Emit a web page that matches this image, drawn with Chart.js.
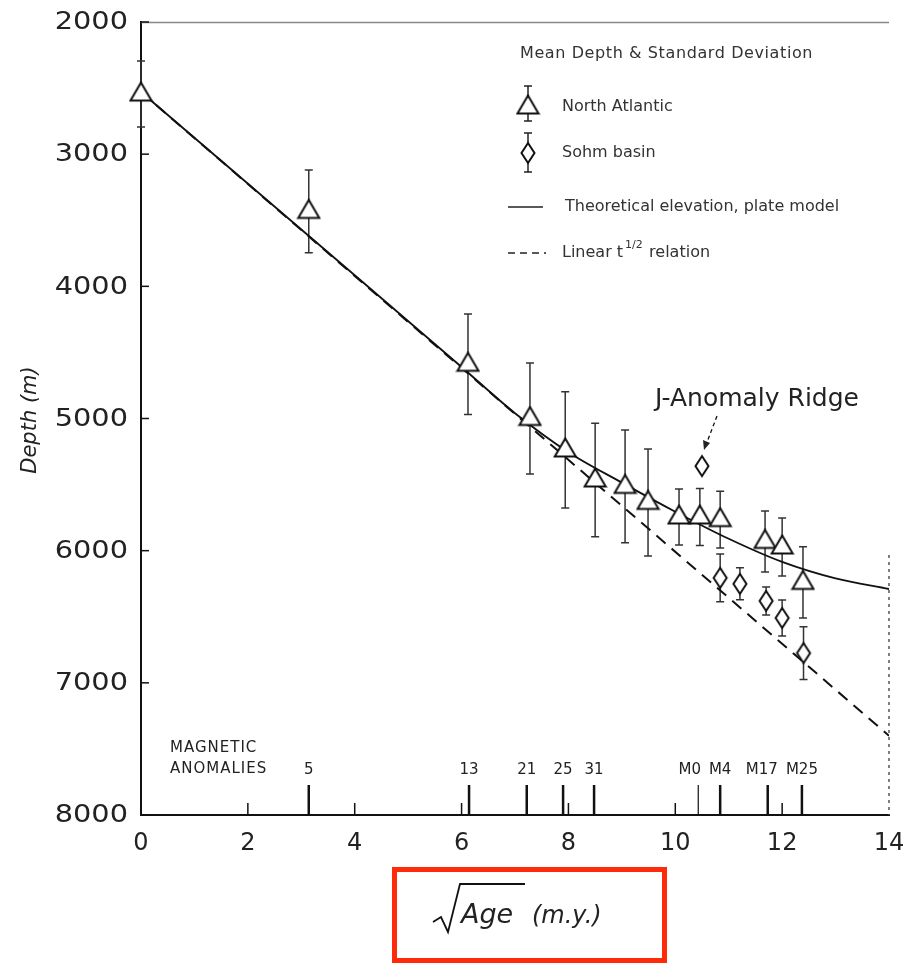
<!DOCTYPE html>
<html>
<head>
<meta charset="utf-8">
<script src="https://cdn.jsdelivr.net/npm/chart.js@4.4.1/dist/chart.umd.min.js"></script>
<style>
  body { margin: 0; background: #fff; }
  #wrap { width: 904px; height: 963px; position: relative; }
</style>
</head>
<body>
<div id="wrap"><canvas id="depth"></canvas></div>
<script>
// x = sqrt(age) (m.y.), y = depth (m)
const xTicks = [0, 2, 4, 6, 8, 10, 12, 14]
const yTicks = [2000, 3000, 4000, 5000, 6000, 7000, 8000]

const atlanticAge = [0, 3.14, 6.12, 7.28, 7.94, 8.5, 9.06, 9.49, 10.07, 10.46, 10.84, 11.68, 12.0, 12.39]
const atlanticDepth = [2545, 3433, 4590, 5000, 5238, 5465, 5514, 5635, 5745, 5745, 5765, 5930, 5972, 6240]
const atlanticSd = [250, 313, 380, 420, 440, 430, 427, 405, 212, 215, 215, 231, 220, 270]

const sohmAge = [10.5, 10.84, 11.21, 11.7, 12.0, 12.4]
const sohmDepth = [5360, 6206, 6251, 6380, 6509, 6775]
const sohmSd = [0, 180, 121, 106, 136, 200]

const plateAge = [0, 3, 6, 7, 8, 9, 10, 11, 12, 13, 14]
const plateDepth = [2530, 3570, 4610, 4960, 5255, 5485, 5705, 5910, 6085, 6210, 6290]

const linearAge = [0, 14]
const linearDepth = [2530, 7400]

const anomalyAge = [3.14, 6.14, 7.22, 7.9, 8.48, 10.43, 10.84, 11.73, 12.37]
const anomalyName = ["5", "13", "21", "25", "31", "M0", "M4", "M17", "M25"]

function pts(xs, ys) {
    return xs.map((v, i) => ({x: v, y: ys[i]}))
}

function makeTriangle() {
    const c = document.createElement("canvas")
    c.width = 25; c.height = 26
    const g = c.getContext("2d")
    g.fillStyle = "#fff"; g.strokeStyle = "#111"; g.lineWidth = 2
    g.beginPath(); g.moveTo(12.5, 1.5); g.lineTo(23, 19.5); g.lineTo(2, 19.5); g.closePath()
    g.fill(); g.stroke()
    return c
}

function makeDiamond() {
    const c = document.createElement("canvas")
    c.width = 18; c.height = 24
    const g = c.getContext("2d")
    g.fillStyle = "#fff"; g.strokeStyle = "#111"; g.lineWidth = 2
    g.beginPath(); g.moveTo(9, 2); g.lineTo(15.5, 12); g.lineTo(9, 22); g.lineTo(2.5, 12); g.closePath()
    g.fill(); g.stroke()
    return c
}

const triangle = makeTriangle()
const diamond = makeDiamond()

function errBar(ctx, px, y1, y2) {
    ctx.beginPath()
    ctx.moveTo(px, y1); ctx.lineTo(px, y2)
    ctx.moveTo(px - 4, y1); ctx.lineTo(px + 4, y1)
    ctx.moveTo(px - 4, y2); ctx.lineTo(px + 4, y2)
    ctx.stroke()
}

const errorBars = {
    id: "errorBars",
    beforeDatasetsDraw(chart) {
        const {ctx, scales: {x, y}} = chart
        ctx.save()
        ctx.strokeStyle = "#333"
        ctx.lineWidth = 1.5
        chart.data.datasets.forEach(ds => {
            if (!ds.sd) return
            ds.data.forEach((p, i) => {
                const e = ds.sd[i]
                if (!e) return
                errBar(ctx, x.getPixelForValue(p.x), y.getPixelForValue(p.y - e), y.getPixelForValue(p.y + e))
            })
        })
        ctx.restore()
    }
}

const decorations = {
    id: "decorations",
    afterDraw(chart) {
        const {ctx, chartArea: {left, top, right, bottom}, scales: {x, y}} = chart
        ctx.save()
        ctx.fillStyle = "#111"
        ctx.strokeStyle = "#111"

        // frame: faint top edge, dotted right edge
        ctx.lineWidth = 1.5
        ctx.strokeStyle = "#888"
        ctx.beginPath(); ctx.moveTo(left, top + 0.5); ctx.lineTo(right, top + 0.5); ctx.stroke()
        ctx.strokeStyle = "#555"
        ctx.setLineDash([3, 4])
        ctx.beginPath(); ctx.moveTo(right, 555); ctx.lineTo(right, bottom); ctx.stroke()
        ctx.setLineDash([])

        // inward ticks
        ctx.strokeStyle = "#111"
        ctx.lineWidth = 1.5
        yTicks.forEach(v => {
            const py = y.getPixelForValue(v)
            ctx.beginPath(); ctx.moveTo(left, py); ctx.lineTo(left + 8, py); ctx.stroke()
        })
        xTicks.slice(1, -1).forEach(v => {
            const px = x.getPixelForValue(v)
            ctx.beginPath(); ctx.moveTo(px, bottom); ctx.lineTo(px, bottom - 12); ctx.stroke()
        })

        // tick labels
        ctx.font = "24px 'DejaVu Sans'"
        ctx.textBaseline = "middle"
        ctx.fillStyle = "#222"
        yTicks.forEach(v => {
            ctx.save()
            ctx.translate(128, y.getPixelForValue(v))
            ctx.scale(1.2, 1)
            ctx.textAlign = "right"
            ctx.fillText(String(v), 0, 1)
            ctx.restore()
        })
        ctx.textAlign = "center"
        xTicks.forEach(v => {
            ctx.fillText(String(v), x.getPixelForValue(v), bottom + 29)
        })

        // axis titles
        ctx.save()
        ctx.translate(31, 420)
        ctx.rotate(-Math.PI / 2)
        ctx.font = "italic 21px 'DejaVu Sans'"
        ctx.fillText("Depth (m)", 0, 0)
        ctx.restore()

        ctx.lineWidth = 1.8
        ctx.beginPath()
        ctx.moveTo(433, 922); ctx.lineTo(441, 917); ctx.lineTo(448, 932); ctx.lineTo(460, 884); ctx.lineTo(525, 884)
        ctx.stroke()
        ctx.textAlign = "left"
        ctx.textBaseline = "alphabetic"
        ctx.font = "italic 27px 'DejaVu Sans'"
        ctx.fillText("Age", 461, 923)
        ctx.font = "italic 24px 'DejaVu Sans'"
        ctx.fillText("(m.y.)", 532, 923)

        ctx.strokeStyle = "#ff2a0a"
        ctx.lineWidth = 5
        ctx.strokeRect(394.5, 869.5, 270, 91)

        // magnetic anomalies
        ctx.strokeStyle = "#111"
        ctx.fillStyle = "#222"
        ctx.letterSpacing = "1px"
        ctx.font = "15px 'DejaVu Sans'"
        ctx.fillText("MAGNETIC", 170, 752)
        ctx.fillText("ANOMALIES", 170, 773)
        ctx.letterSpacing = "0px"
        // keep names apart: walk right to left, push a label left if it hits its neighbour
        const xs = anomalyAge.map(a => x.getPixelForValue(a))
        const centres = xs.slice()
        for (let i = centres.length - 2; i >= 0; i--) {
            const half = ctx.measureText(anomalyName[i]).width / 2
            const nextLeft = centres[i + 1] - ctx.measureText(anomalyName[i + 1]).width / 2
            if (centres[i] + half > nextLeft - 8) centres[i] = nextLeft - 8 - half
        }
        ctx.textAlign = "center"
        xs.forEach((px, i) => {
            ctx.lineWidth = anomalyName[i] === "M0" ? 1.2 : 2.5
            ctx.beginPath(); ctx.moveTo(px, bottom); ctx.lineTo(px, bottom - 30); ctx.stroke()
            ctx.fillText(anomalyName[i], centres[i], 774)
        })

        // J-Anomaly Ridge note
        const jx = x.getPixelForValue(sohmAge[0])
        const jy = y.getPixelForValue(sohmDepth[0])
        ctx.textAlign = "left"
        ctx.font = "25px 'DejaVu Sans'"
        ctx.fillText("J-Anomaly Ridge", 655, 406)
        ctx.lineWidth = 1.3
        ctx.setLineDash([4, 3])
        ctx.beginPath(); ctx.moveTo(jx + 15, jy - 50); ctx.lineTo(jx + 5, jy - 24); ctx.stroke()
        ctx.setLineDash([])
        ctx.beginPath()
        ctx.moveTo(jx + 2, jy - 16); ctx.lineTo(jx + 1, jy - 26); ctx.lineTo(jx + 8, jy - 23); ctx.closePath()
        ctx.fill()

        // legend
        ctx.fillStyle = "#333"
        ctx.strokeStyle = "#222"
        ctx.font = "16px 'DejaVu Sans'"
        ctx.textBaseline = "middle"
        ctx.letterSpacing = "0.6px"
        ctx.fillText("Mean Depth & Standard Deviation", 520, 54)
        ctx.letterSpacing = "0px"
        ctx.lineWidth = 1.5
        errBar(ctx, 528, 86, 121)
        ctx.drawImage(triangle, 528 - 12.5, 107 - 13)
        ctx.fillText("North Atlantic", 562, 107)
        errBar(ctx, 528, 133, 172)
        ctx.drawImage(diamond, 528 - 9, 153 - 12)
        ctx.fillText("Sohm basin", 562, 153)
        ctx.beginPath(); ctx.moveTo(508, 207); ctx.lineTo(543, 207); ctx.stroke()
        ctx.fillText("Theoretical elevation, plate model", 565, 207)
        ctx.setLineDash([7, 5])
        ctx.beginPath(); ctx.moveTo(508, 253); ctx.lineTo(546, 253); ctx.stroke()
        ctx.setLineDash([])
        ctx.fillText("Linear t", 562, 253)
        const w = ctx.measureText("Linear t").width
        ctx.font = "11px 'DejaVu Sans'"
        ctx.fillText("1/2", 562 + w + 2, 245)
        ctx.font = "16px 'DejaVu Sans'"
        ctx.fillText("relation", 562 + w + 26, 253)

        ctx.restore()
    }
}

const ctx = document.getElementById("depth").getContext("2d")
const depthChart = new Chart(ctx, {
    type: "scatter",
    data: {
        datasets: [{
            label: "North Atlantic",
            data: pts(atlanticAge, atlanticDepth),
            sd: atlanticSd,
            pointStyle: triangle,
            pointRadius: 10,
            clip: false,
            order: 0
        }, {
            label: "Sohm basin",
            data: pts(sohmAge, sohmDepth),
            sd: sohmSd,
            pointStyle: diamond,
            pointRadius: 10,
            clip: false,
            order: 0
        }, {
            label: "Theoretical elevation, plate model",
            data: pts(plateAge, plateDepth),
            showLine: true,
            borderColor: "#111",
            borderWidth: 1.8,
            pointRadius: 0,
            cubicInterpolationMode: "monotone",
            order: 1
        }, {
            label: "Linear t1/2 relation",
            data: pts(linearAge, linearDepth),
            showLine: true,
            borderColor: "#111",
            borderWidth: 2,
            borderDash: [12, 8],
            pointRadius: 0,
            order: 1
        }]
    },
    options: {
        responsive: true,
        maintainAspectRatio: false,
        animation: false,
        layout: {padding: {top: 22, right: 15, left: 0, bottom: 0}},
        scales: {
            x: {
                type: "linear",
                min: 0,
                max: 14,
                afterBuildTicks: s => { s.ticks = xTicks.map(v => ({value: v})) },
                afterFit: s => { s.height = 148 },
                grid: {display: false},
                border: {display: true, color: "#111", width: 2},
                ticks: {display: false}
            },
            y: {
                type: "linear",
                min: 2000,
                max: 8000,
                reverse: true,
                afterBuildTicks: s => { s.ticks = yTicks.map(v => ({value: v})) },
                afterFit: s => { s.width = 141 },
                grid: {display: false},
                border: {display: true, color: "#111", width: 2},
                ticks: {display: false}
            }
        },
        plugins: {
            legend: {display: false},
            tooltip: {enabled: false}
        }
    },
    plugins: [errorBars, decorations]
})
</script>
</body>
</html>
